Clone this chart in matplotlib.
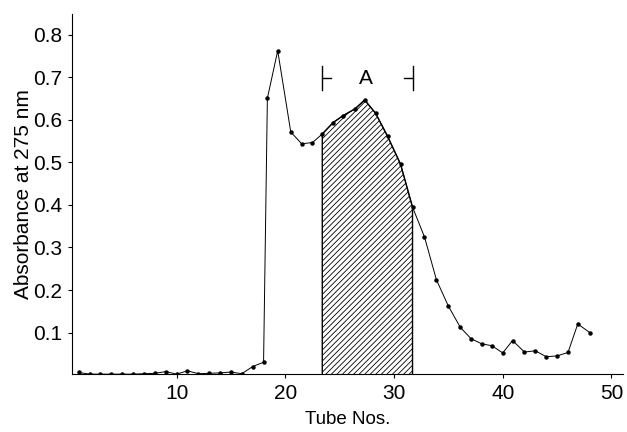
import numpy as np
import matplotlib
matplotlib.use("Agg")
import matplotlib.pyplot as plt

plt.rcParams['font.family'] = ['Liberation Sans', 'DejaVu Sans']
plt.rcParams['hatch.linewidth'] = 0.6

# data
tube = [1, 2, 3, 4, 5, 6, 7, 8, 9, 10, 11, 12, 13, 14, 15, 16, 17, 18,
        18.35, 19.3, 20.5, 21.5, 22.5, 23.4, 24.4, 25.3, 26.4, 27.3, 28.3,
        29.4, 30.6, 31.7, 32.8, 33.9, 35.0, 36.1, 37.1, 38.1, 39.0, 40.0,
        40.9, 42.0, 43.0, 44.0, 45.0, 46.0, 46.9, 48.0]
absorbance = [0.006, 0.002, 0.002, 0.002, 0.002, 0.002, 0.003, 0.004, 0.008,
              0.002, 0.010, 0.003, 0.004, 0.005, 0.007, 0.003, 0.020, 0.030,
              0.651, 0.763, 0.572, 0.544, 0.547, 0.567, 0.594, 0.610, 0.626,
              0.647, 0.616, 0.562, 0.496, 0.395, 0.325, 0.224, 0.162, 0.112,
              0.085, 0.073, 0.069, 0.052, 0.081, 0.054, 0.057, 0.043, 0.045,
              0.053, 0.120, 0.100]

fraction_a = (23.4, 31.7)   # pooled fraction "A"
xticks = [10, 20, 30, 40, 50]
yticks = [0.1, 0.2, 0.3, 0.4, 0.5, 0.6, 0.7, 0.8]

x = np.array(tube)
y = np.array(absorbance)

fig = plt.figure(figsize=(6.27, 4.32), dpi=100)
ax = fig.add_axes([0.1152, 0.1339, 0.8791, 0.8343])

# hatched fraction
sel = (x >= fraction_a[0]) & (x <= fraction_a[1])
ax.fill_between(x[sel], y[sel], 0, facecolor='white', edgecolor='black',
                hatch='//////', linewidth=1.0, zorder=1)

ax.plot(x, y, color='black', linewidth=0.7, marker='o', markersize=2.2, zorder=2)

# bracket with label A
yb, h = 0.698, 0.028
ax.plot([fraction_a[0]] * 2, [yb - h, yb + h], color='black', lw=1.0)
ax.plot([fraction_a[0], fraction_a[0] + 0.8], [yb, yb], color='black', lw=1.0)
ax.plot([fraction_a[1]] * 2, [yb - h, yb + h], color='black', lw=1.0)
ax.plot([fraction_a[1] - 0.8, fraction_a[1]], [yb, yb], color='black', lw=1.0)
ax.text(27.4, yb, 'A', ha='center', va='center', fontsize=15)

ax.set_xlim(0.4, 51.1)
ax.set_ylim(0.002, 0.85)
ax.set_xticks(xticks)
ax.set_xticklabels([str(t) for t in xticks], fontsize=15)
ax.set_yticks(yticks)
ax.set_yticklabels([f"{t:.1f}" for t in yticks], fontsize=15)
ax.tick_params(length=3, width=0.8, pad=4)

for s in ['top', 'right']:
    ax.spines[s].set_visible(False)
for s in ['left', 'bottom']:
    ax.spines[s].set_linewidth(0.8)

ax.set_xlabel("Tube Nos.", fontsize=13.5, labelpad=6)
ax.set_ylabel("Absorbance at 275 nm", fontsize=15, labelpad=0)

fig.savefig("out.png", dpi=100)
